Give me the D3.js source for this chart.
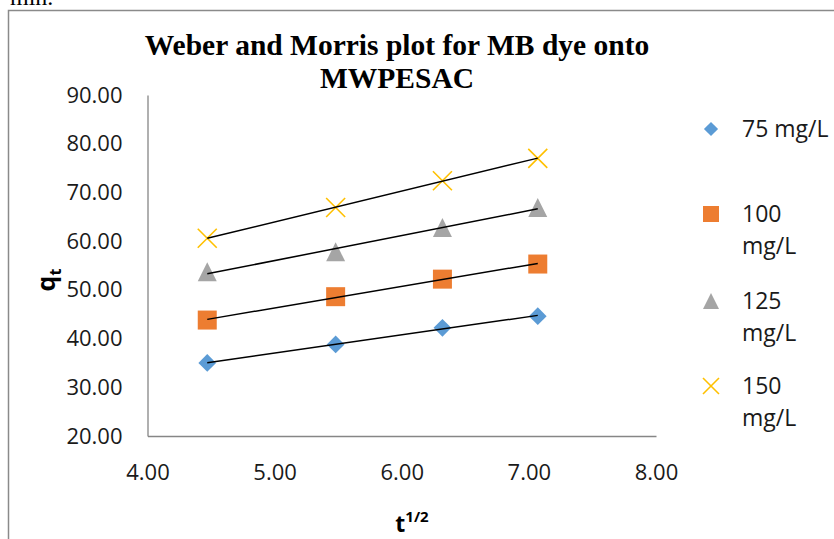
<!DOCTYPE html>
<html>
<head>
<meta charset="utf-8">
<script src="https://cdn.jsdelivr.net/npm/d3@7"></script>
<style>
  body { margin: 0; background: #fff; }
  svg { display: block; }
</style>
</head>
<body>
<div id="chart"></div>
<script>
// chart size
var svgWidth = 834;
var svgHeight = 539;

// data
var timeRoot = [4.47, 5.48, 6.32, 7.07];
var seriesNames = ["75 mg/L", "100 mg/L", "125 mg/L", "150 mg/L"];
var q75 = [35.0, 38.8, 42.2, 44.6];
var q100 = [43.8, 48.6, 52.2, 55.3];
var q125 = [53.7, 57.8, 62.8, 66.9];
var q150 = [60.6, 66.9, 72.4, 77.0];
var xTicks = [4, 5, 6, 7, 8];
var yTicks = [20, 30, 40, 50, 60, 70, 80, 90];

var seriesValues = [q75, q100, q125, q150];
var colors = ["#5B9BD5", "#ED7D31", "#A5A5A5", "#FFC000"];
var shapes = ["diamond", "square", "triangle", "cross"];

var svg = d3.select("#chart")
  .append("svg")
  .attr("width", svgWidth)
  .attr("height", svgHeight);

svg.append("rect")
  .attr("width", svgWidth)
  .attr("height", svgHeight)
  .attr("fill", "#fff");

// cut off text from the page above the chart
svg.append("text")
  .attr("x", 10)
  .attr("y", 5)
  .attr("font-family", "Liberation Serif, serif")
  .attr("font-size", 24)
  .attr("fill", "#000")
  .text("min.");

// chart frame (runs off the page on the right and bottom)
svg.append("rect")
  .attr("x", 8.5)
  .attr("y", 10.5)
  .attr("width", 900)
  .attr("height", 600)
  .attr("fill", "none")
  .attr("stroke", "#8a8a8a")
  .attr("stroke-width", 1.5);

// scales
var x = d3.scaleLinear().domain([4, 8]).range([147.5, 656]);
var y = d3.scaleLinear().domain([20, 90]).range([436, 95]);

// axes
var xAxis = svg.append("g")
  .attr("transform", "translate(0,436)")
  .call(d3.axisBottom(x).tickValues(xTicks).tickSize(0).tickPadding(28).tickFormat(d3.format(".2f")));

var yAxis = svg.append("g")
  .attr("transform", "translate(147.5,0)")
  .call(d3.axisLeft(y).tickValues(yTicks).tickSize(0).tickPadding(25).tickFormat(d3.format(".2f")));

[xAxis, yAxis].forEach(function(g) {
  g.select(".domain").attr("stroke", "#868686").attr("stroke-width", 1.3);
  g.selectAll("text")
    .attr("font-family", "Open Sans, sans-serif")
    .attr("font-size", 22)
    .attr("fill", "#1a1a1a");
});

// marker drawing
function marker(g, shape, color, size) {
  if (shape === "diamond") {
    g.append("path")
      .attr("d", d3.symbol().type(d3.symbolDiamond2).size(size * size * 0.5)())
      .attr("fill", color);
  } else if (shape === "square") {
    g.append("path")
      .attr("d", d3.symbol().type(d3.symbolSquare).size(size * size)())
      .attr("fill", color);
  } else if (shape === "triangle") {
    var h = size;
    g.append("path")
      .attr("d", "M0," + (-h / 2) + "L" + (h / 2) + "," + (h / 2) + "L" + (-h / 2) + "," + (h / 2) + "Z")
      .attr("fill", color);
  } else {
    var s = size / 2;
    g.append("path")
      .attr("d", "M" + (-s) + "," + (-s) + "L" + s + "," + s + "M" + s + "," + (-s) + "L" + (-s) + "," + s)
      .attr("stroke", color)
      .attr("stroke-width", 1.6)
      .attr("fill", "none");
  }
}

// least squares trend line for each series
function fit(xs, ys) {
  var mx = d3.mean(xs), my = d3.mean(ys);
  var num = d3.sum(xs, (d, i) => (d - mx) * (ys[i] - my));
  var den = d3.sum(xs, d => (d - mx) * (d - mx));
  var b = num / den;
  return { b: b, a: my - b * mx };
}

seriesValues.forEach(function(vals, i) {
  var g = svg.append("g");
  vals.forEach(function(v, j) {
    marker(g.append("g").attr("transform", `translate(${x(timeRoot[j])},${y(v)})`), shapes[i], colors[i], i === 0 ? 20 : 19);
  });
});

seriesValues.forEach(function(vals, i) {
  var f = fit(timeRoot, vals);
  var x0 = timeRoot[0], x1 = timeRoot[timeRoot.length - 1];
  svg.append("line")
    .attr("x1", x(x0)).attr("y1", y(f.a + f.b * x0))
    .attr("x2", x(x1)).attr("y2", y(f.a + f.b * x1))
    .attr("stroke", "#000")
    .attr("stroke-width", 1.5);
});

// title
var title = svg.append("text")
  .attr("text-anchor", "middle")
  .attr("font-family", "Liberation Serif, serif")
  .attr("font-weight", "bold")
  .attr("font-size", 29.5)
  .attr("fill", "#000");
title.append("tspan").attr("x", 397).attr("y", 55).text("Weber and Morris plot for MB dye onto");
title.append("tspan").attr("x", 397).attr("y", 88).text("MWPESAC");

// axis titles
var yTitle = svg.append("text")
  .attr("transform", "translate(55,280) rotate(-90)")
  .attr("text-anchor", "middle")
  .attr("font-family", "Open Sans, sans-serif")
  .attr("font-weight", "bold")
  .attr("font-size", 25)
  .attr("fill", "#000");
yTitle.append("tspan").text("q");
yTitle.append("tspan").attr("font-size", 16).attr("dy", 6).text("t");

var xTitle = svg.append("text")
  .attr("x", 412)
  .attr("y", 532)
  .attr("text-anchor", "middle")
  .attr("font-family", "Open Sans, sans-serif")
  .attr("font-weight", "bold")
  .attr("font-size", 23)
  .attr("fill", "#000");
xTitle.append("tspan").text("t");
xTitle.append("tspan").attr("font-size", 15).attr("dy", -10).text("1/2");

// legend
var legendRows = [[129], [214, 246], [301, 333], [386, 418]];
var legendText = [["75 mg/L"], ["100", "mg/L"], ["125", "mg/L"], ["150", "mg/L"]];
seriesNames.forEach(function(name, i) {
  var row = svg.append("g");
  marker(row.append("g").attr("transform", `translate(711,${legendRows[i][0]})`), shapes[i], colors[i], 16);
  legendText[i].forEach(function(t, k) {
    row.append("text")
      .attr("x", 742)
      .attr("y", legendRows[i][k])
      .attr("dy", "0.36em")
      .attr("font-family", "Open Sans, sans-serif")
      .attr("font-size", 23)
      .attr("fill", "#1a1a1a")
      .text(t);
  });
});
</script>
</body>
</html>
